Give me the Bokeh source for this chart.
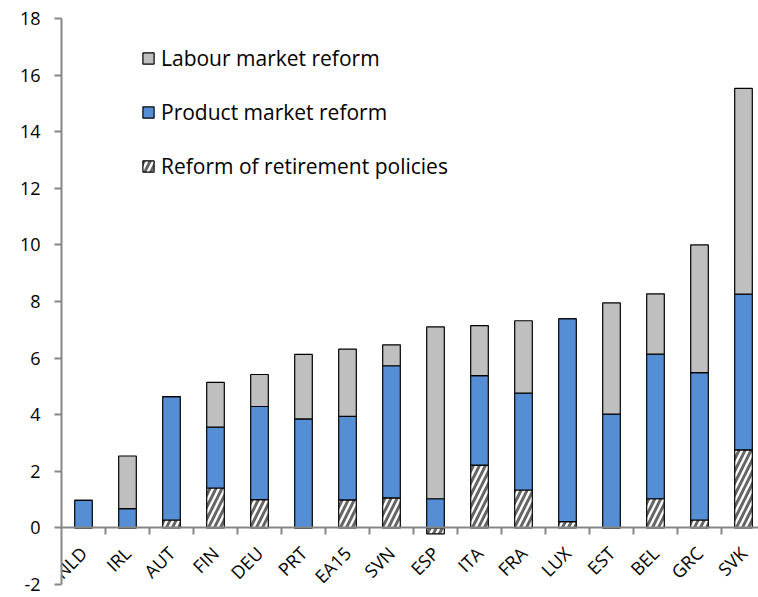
import math
from bokeh.plotting import figure
from bokeh.models import (ColumnDataSource, Range1d, FixedTicker, LinearAxis,
                          Legend, LegendItem)
from bokeh.embed import file_html
from bokeh.resources import INLINE

countries = ["NLD", "IRL", "AUT", "FIN", "DEU", "PRT", "EA15", "SVN",
             "ESP", "ITA", "FRA", "LUX", "EST", "BEL", "GRC", "SVK"]
retirement = [0.0, 0.0, 0.28, 1.41, 1.0, 0.0, 0.99, 1.06,
              -0.21, 2.22, 1.34, 0.22, 0.0, 1.03, 0.28, 2.76]
product = [0.97, 0.68, 4.36, 2.15, 3.29, 3.85, 2.95, 4.67,
           1.03, 3.16, 3.42, 7.17, 4.02, 5.11, 5.21, 5.50]
labour = [0.0, 1.86, 0.0, 1.58, 1.13, 2.28, 2.38, 0.74,
          6.07, 1.77, 2.56, 0.0, 3.93, 2.13, 4.51, 7.27]
y_ticks = [-2, 0, 2, 4, 6, 8, 10, 12, 14, 16, 18]
y_tick_labels = ["-2", "0", "2", "4", "6", "8", "10", "12", "14", "16", "18"]

FONT = "Open Sans"
AXIS_COLOR = "#868686"

idx = list(range(len(countries)))
r_top = retirement
p_bot = [max(r, 0.0) for r in retirement]
p_top = [b + p for b, p in zip(p_bot, product)]
l_top = [t + l for t, l in zip(p_top, labour)]

src = ColumnDataSource(dict(x=idx, r_bot=[0.0] * len(idx), r_top=r_top,
                            p_bot=p_bot, p_top=p_top, l_bot=p_top, l_top=l_top))

W, H = 758, 596
BL, BT, BB = 61, 18, 12
frame_w = W - BL
frame_h = H - BT - BB
cat_px = 44.0
p = figure(width=W, height=H, output_backend="svg", toolbar_location=None,
           x_range=Range1d(-0.5, -0.5 + frame_w / cat_px), y_range=Range1d(-2, 18),
           min_border_left=BL, min_border_right=0, min_border_top=BT,
           min_border_bottom=BB, x_axis_location=None, y_axis_location=None)
p.outline_line_color = None
p.xgrid.visible = False
p.ygrid.visible = False
p.background_fill_color = "white"

bw = 0.4
rr = p.vbar(x="x", bottom="r_bot", top="r_top", width=bw, source=src,
            fill_color="white", line_color="black", line_width=1.2,
            hatch_pattern="/", hatch_color="#666666", hatch_scale=12, hatch_weight=3)
pr = p.vbar(x="x", bottom="p_bot", top="p_top", width=bw, source=src,
            fill_color="#558ED5", line_color="black", line_width=1.2)
lr = p.vbar(x="x", bottom="l_bot", top="l_top", width=bw, source=src,
            fill_color="#BFBFBF", line_color="black", line_width=1.2)

# y axis
yax = LinearAxis(ticker=FixedTicker(ticks=y_ticks))
yax.major_label_overrides = {t: s for t, s in zip(y_ticks, y_tick_labels)}
yax.axis_line_color = AXIS_COLOR
yax.axis_line_width = 2
yax.major_tick_line_color = AXIS_COLOR
yax.major_tick_line_width = 2
yax.major_tick_out = 7
yax.major_tick_in = 0
yax.minor_tick_line_color = None
yax.major_label_text_font = FONT
yax.major_label_text_font_size = "18px"
yax.major_label_text_color = "black"
yax.major_label_standoff = 14
p.add_layout(yax, "left")

# x axis line with ticks at category boundaries, at y = 0
xax = LinearAxis(ticker=FixedTicker(ticks=[i + 0.5 for i in idx]), fixed_location=0)
xax.axis_line_color = AXIS_COLOR
xax.axis_line_width = 2
xax.major_tick_line_color = AXIS_COLOR
xax.major_tick_line_width = 2
xax.major_tick_out = 7
xax.major_tick_in = 0
xax.minor_tick_line_color = None
xax.major_label_text_font_size = "0px"
xax.major_label_text_alpha = 0
p.add_layout(xax, "below")

# category labels
lax = LinearAxis(ticker=FixedTicker(ticks=idx), fixed_location=0)
lax.axis_line_color = None
lax.major_tick_line_color = None
lax.minor_tick_line_color = None
lax.major_label_overrides = {i: c for i, c in zip(idx, countries)}
lax.major_label_orientation = math.pi / 4
lax.major_label_text_font = FONT
lax.major_label_text_font_size = "18px"
lax.major_label_text_color = "black"
lax.major_label_standoff = 16
p.add_layout(lax, "below")

legend = Legend(items=[LegendItem(label="Labour market reform", renderers=[lr]),
                       LegendItem(label="Product market reform", renderers=[pr]),
                       LegendItem(label="Reform of retirement policies", renderers=[rr])],
                location=(80, frame_h - 162))
legend.border_line_color = None
legend.background_fill_alpha = 0
legend.padding = 0
legend.margin = 0
legend.glyph_width = 14
legend.glyph_height = 14
legend.label_height = 28
legend.spacing = 26
legend.label_standoff = 6
legend.label_text_font = FONT
legend.label_text_font_size = "21px"
legend.label_text_color = "black"
p.add_layout(legend, "center")

open("out.html", "w").write(file_html(p, INLINE))
